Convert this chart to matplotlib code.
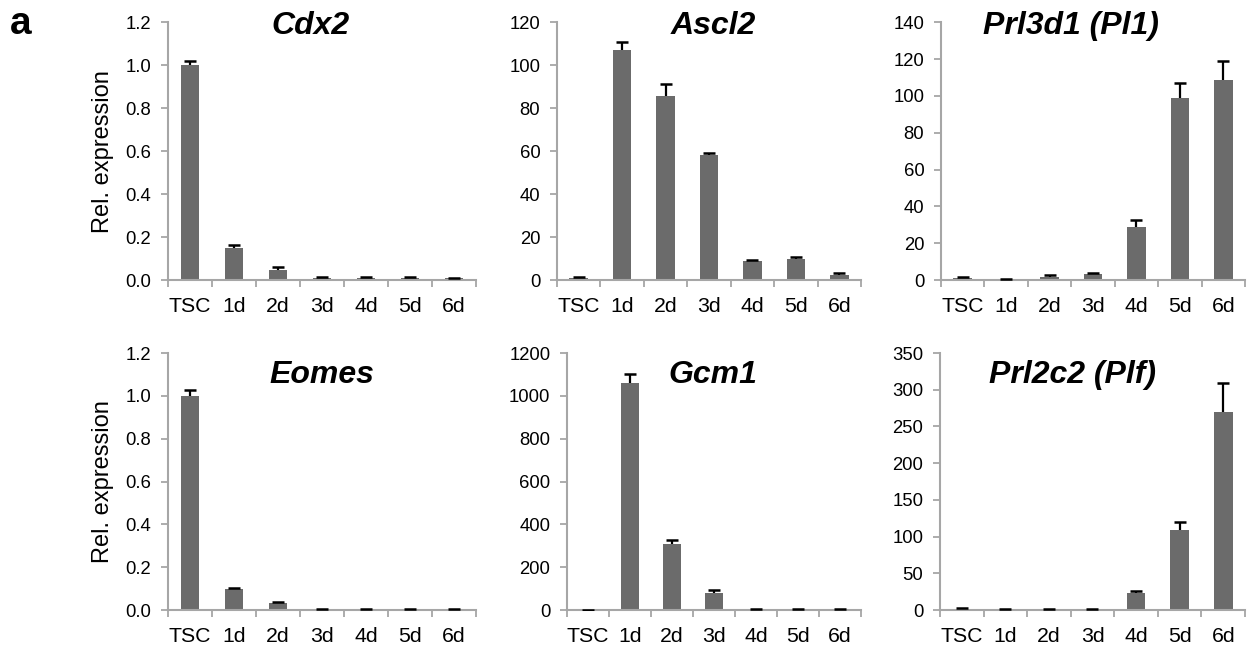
import numpy as np
import matplotlib
matplotlib.use("Agg")
import matplotlib.pyplot as plt

plt.rcParams['font.family'] = ['Liberation Sans', 'DejaVu Sans']

categories = ["TSC", "1d", "2d", "3d", "4d", "5d", "6d"]

cdx2 = [1.0, 0.151, 0.047, 0.012, 0.012, 0.012, 0.008]
cdx2_err = [0.02, 0.013, 0.012, 0.004, 0.004, 0.004, 0.003]

ascl2 = [1.0, 107.3, 85.5, 58.1, 8.9, 9.7, 2.5]
ascl2_err = [0.4, 3.4, 5.9, 1.1, 0.4, 0.9, 1.0]

prl3d1 = [1.0, 0.5, 1.6, 3.3, 28.9, 98.9, 108.4]
prl3d1_err = [0.8, 0.3, 1.3, 0.7, 3.5, 8.0, 10.7]

eomes = [1.0, 0.097, 0.031, 0.005, 0.003, 0.003, 0.003]
eomes_err = [0.026, 0.004, 0.005, 0.001, 0.001, 0.001, 0.001]

gcm1 = [1.0, 1059, 307, 81, 3, 3, 2]
gcm1_err = [0.5, 44, 20, 12, 2, 2, 1]

prl2c2 = [1.5, 0.5, 0.5, 0.5, 22.6, 109.6, 269.3]
prl2c2_err = [1.0, 0.3, 0.3, 0.3, 3.6, 9.9, 39.7]

# title, values, errors, ymax, step, format, axes rect, title pos, ylabel
panels = [
    ("Cdx2", cdx2, cdx2_err, 1.2, 0.2, "%.1f", (0.1346, 0.571, 0.2468, 0.395), (0.464, 0.985), True),
    ("Ascl2", ascl2, ascl2_err, 120, 20, "%d", (0.4463, 0.571, 0.2436, 0.395), (0.513, 0.985), False),
    ("Prl3d1 (Pl1)", prl3d1, prl3d1_err, 140, 20, "%d", (0.754, 0.571, 0.2436, 0.395), (0.428, 0.985), False),
    ("Eomes", eomes, eomes_err, 1.2, 0.2, "%.1f", (0.1346, 0.0658, 0.2468, 0.3936), (0.5, 0.914), True),
    ("Gcm1", gcm1, gcm1_err, 1200, 200, "%d", (0.4543, 0.0658, 0.2356, 0.3936), (0.497, 0.914), False),
    ("Prl2c2 (Plf)", prl2c2, prl2c2_err, 350, 50, "%d", (0.7532, 0.0658, 0.2444, 0.3936), (0.433, 0.914), False),
]

bar_color = "#6b6b6b"
axis_color = "#a6a6a6"

fig = plt.figure(figsize=(12.48, 6.53), dpi=100)

for title, vals, errs, ymax, step, fmt, rect, tpos, show_ylabel in panels:
    ax = fig.add_axes(rect)
    x = np.arange(len(categories))
    ax.bar(x, vals, width=0.43, color=bar_color, zorder=2)
    eb = ax.errorbar(x, vals, yerr=[np.zeros(len(vals)), errs], fmt="none",
                     ecolor="black", elinewidth=1.6, capsize=4, capthick=1.8, zorder=3)
    eb[1][0].set_visible(False)  # only the upper cap
    ax.set_xlim(-0.5, len(categories) - 0.5)
    ax.set_ylim(0, ymax)
    ax.set_yticks(np.arange(0, ymax + step / 2, step))
    ax.yaxis.set_major_formatter(matplotlib.ticker.FormatStrFormatter(fmt))
    ax.set_xticks(x)
    ax.set_xticklabels(categories)
    ax.set_xticks(np.arange(-0.5, len(categories)), minor=True)
    ax.tick_params(axis="x", which="major", length=0, pad=12, labelsize=15.3)
    ax.tick_params(axis="x", which="minor", length=5, width=1.3, color=axis_color, direction="out")
    ax.tick_params(axis="y", length=5, width=1.3, color=axis_color, pad=7, labelsize=13.3)
    for s in ["top", "right"]:
        ax.spines[s].set_visible(False)
    for s in ["left", "bottom"]:
        ax.spines[s].set_color(axis_color)
        ax.spines[s].set_linewidth(1.5)
    ax.text(tpos[0], tpos[1], title, transform=ax.transAxes, ha="center", va="center",
            fontsize=23, fontweight="bold", fontstyle="italic")
    if show_ylabel:
        ax.set_ylabel("Rel. expression", fontsize=17)
        ax.yaxis.set_label_coords(-0.175, 0.5)

fig.text(0.008, 0.963, "a", fontsize=28, fontweight="bold", ha="left", va="center")

fig.savefig("out.png", dpi=100)
